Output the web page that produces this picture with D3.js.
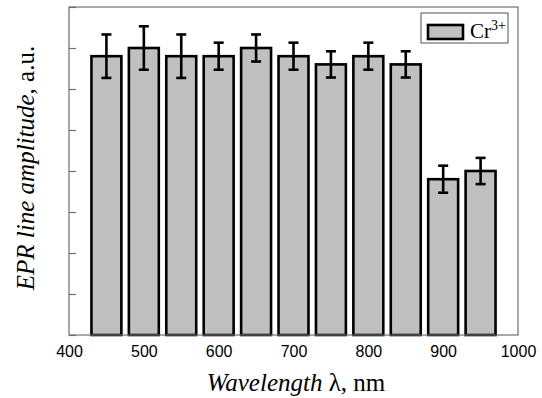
<!DOCTYPE html>
<html>
<head>
<meta charset="utf-8">
<script src="https://cdn.jsdelivr.net/npm/d3@7"></script>
<style>
  body { margin: 0; background: #fff; }
  svg { display: block; }
</style>
</head>
<body>
<svg width="542" height="398"></svg>
<script>
// длины волн (центры столбцов), нм
const wavelengths = [450, 500, 550, 600, 650, 700, 750, 800, 850, 900, 950];
// амплитуда линии ЭПР, отн. ед.
const amplitudes = [6.8, 7.0, 6.8, 6.8, 7.0, 6.8, 6.6, 6.8, 6.6, 3.8, 4.0];
// погрешности
const errors = [0.53, 0.53, 0.53, 0.33, 0.33, 0.33, 0.32, 0.33, 0.32, 0.33, 0.32];
const xTicks = [400, 500, 600, 700, 800, 900, 1000];
const yTicks = [0, 1, 2, 3, 4, 5, 6, 7, 8];
const seriesName = "Cr";

const svg = d3.select("svg");

const area = { left: 69, right: 518, top: 7, bottom: 335 };

const scX = d3.scaleLinear().domain([400, 1000]).range([area.left, area.right]);
const scY = d3.scaleLinear().domain([0, 8]).range([area.bottom, area.top]);

const barW = scX(440) - scX(400);

// столбцы
svg.append("g")
  .selectAll("rect")
  .data(wavelengths)
  .enter()
  .append("rect")
  .attr("x", d => scX(d) - barW / 2)
  .attr("y", (d, i) => scY(amplitudes[i]))
  .attr("width", barW)
  .attr("height", (d, i) => scY(0) - scY(amplitudes[i]))
  .style("fill", "#c0c0c0")
  .style("stroke", "#000")
  .style("stroke-width", 2.6);

// планки погрешностей
const err = svg.append("g")
  .selectAll("g")
  .data(wavelengths)
  .enter()
  .append("g")
  .style("stroke", "#000")
  .style("stroke-width", 2.6);

const cap = 5;
err.append("line")
  .attr("x1", d => scX(d)).attr("x2", d => scX(d))
  .attr("y1", (d, i) => scY(amplitudes[i] + errors[i]))
  .attr("y2", (d, i) => scY(amplitudes[i] - errors[i]));
err.append("line")
  .attr("x1", d => scX(d) - cap).attr("x2", d => scX(d) + cap)
  .attr("y1", (d, i) => scY(amplitudes[i] + errors[i]))
  .attr("y2", (d, i) => scY(amplitudes[i] + errors[i]));
err.append("line")
  .attr("x1", d => scX(d) - cap).attr("x2", d => scX(d) + cap)
  .attr("y1", (d, i) => scY(amplitudes[i] - errors[i]))
  .attr("y2", (d, i) => scY(amplitudes[i] - errors[i]));

// рамка
svg.append("rect")
  .attr("x", area.left)
  .attr("y", area.top)
  .attr("width", area.right - area.left)
  .attr("height", area.bottom - area.top)
  .style("fill", "none")
  .style("stroke", "#6e6e6e")
  .style("stroke-width", 1.2);

// ось Y: внутренние засечки без подписей
const axisY = d3.axisRight(scY).tickValues(yTicks).tickSize(7).tickFormat("");
const gY = svg.append("g")
  .attr("transform", `translate(${area.left}, 0)`)
  .call(axisY);
gY.select(".domain").remove();
gY.selectAll("line").style("stroke", "#6e6e6e").style("stroke-width", 1.2);

// ось X: только подписи
const axisX = d3.axisBottom(scX).tickValues(xTicks).tickSize(0).tickPadding(11).tickFormat(d3.format("d"));
const gX = svg.append("g")
  .attr("transform", `translate(0, ${area.bottom})`)
  .call(axisX);
gX.select(".domain").remove();
gX.selectAll("text")
  .style("font-family", "'Liberation Sans', Arial, sans-serif")
  .style("font-size", "16px")
  .style("fill", "#000");

// подпись оси X
const xLabel = svg.append("text")
  .attr("x", 296)
  .attr("y", 391)
  .attr("text-anchor", "middle")
  .style("font-family", "'Liberation Serif', 'Times New Roman', serif")
  .style("font-size", "25px");
xLabel.append("tspan").style("font-style", "italic").text("Wavelength");
xLabel.append("tspan").text(" λ, nm");

// подпись оси Y
const yLabel = svg.append("text")
  .attr("transform", "translate(34, 168) rotate(-90)")
  .attr("text-anchor", "middle")
  .style("font-family", "'Liberation Serif', 'Times New Roman', serif")
  .style("font-size", "25px");
yLabel.append("tspan").style("font-style", "italic").text("EPR line amplitude");
yLabel.append("tspan").text(", a.u.");

// легенда
const legend = svg.append("g");
legend.append("rect")
  .attr("x", 421).attr("y", 13)
  .attr("width", 87).attr("height", 30)
  .style("fill", "#fff")
  .style("stroke", "#6e6e6e")
  .style("stroke-width", 1.2);
legend.append("rect")
  .attr("x", 428).attr("y", 25)
  .attr("width", 35).attr("height", 14)
  .style("fill", "#c0c0c0")
  .style("stroke", "#000")
  .style("stroke-width", 2.6);
const legText = legend.append("text")
  .attr("x", 470).attr("y", 38)
  .style("font-family", "'Liberation Serif', 'Times New Roman', serif")
  .style("font-size", "21px");
legText.append("tspan").text(seriesName);
legText.append("tspan")
  .attr("dy", -8)
  .style("font-size", "14px")
  .text("3+");
</script>
</body>
</html>
